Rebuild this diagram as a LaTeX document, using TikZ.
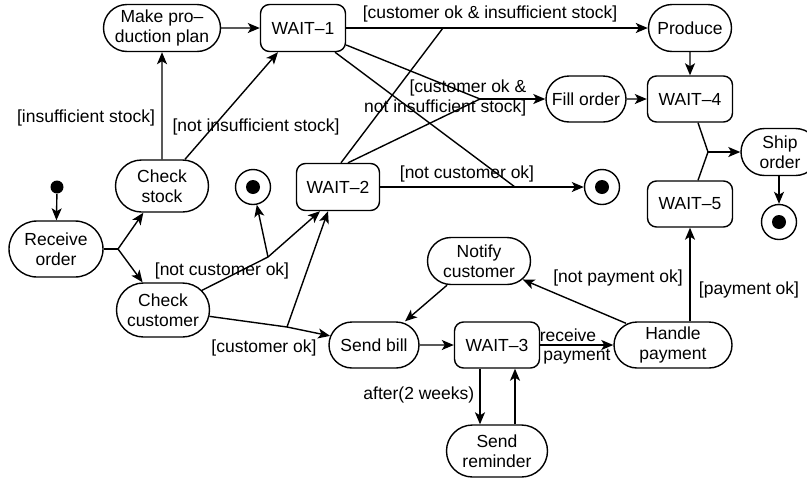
\documentclass[tikz,border=0pt]{standalone}
\usepackage{fontspec}
\setmainfont{Liberation Sans}
\usetikzlibrary{arrows.meta,shapes.misc}

\begin{document}
\begin{tikzpicture}[x=1pt,y=-1pt,line width=1.4pt,
   font=\fontsize{17.5pt}{20pt}\selectfont,
   act/.style={draw,rounded rectangle,align=center,inner sep=1pt,minimum height=47pt},
   waitbox/.style={draw,rectangle,rounded corners=9pt,minimum width=85pt,minimum height=47pt},
   endst/.style={draw,circle,minimum size=35pt,inner sep=0pt,
      path picture={\fill (path picture bounding box.center) circle (7pt);}},
   startst/.style={fill,circle,minimum size=13pt,inner sep=0pt},
   lbl/.style={inner sep=1pt,text height=12.5pt,text depth=3.5pt},
   flow/.style={-{Stealth[length=12pt,width=10pt,inset=3pt]}}]
   \useasboundingbox (0,0) rectangle (807,480);
   \fill [white] (0,0) rectangle (807,480);
   % states
   \node [startst] (start) at (57,187) {};
   \node [act,minimum width=96pt,minimum height=56pt] (recv) at (56,249) {Receive\\order};
   \node [act,minimum width=95pt,minimum height=52pt] (chkstock) at (162,186) {Check\\stock};
   \node [act,minimum width=95pt,minimum height=54pt] (chkcust) at (163,310) {Check\\customer};
   \node [act,minimum width=119pt] (plan) at (162,28) {Make pro--\\duction plan};
   \node [waitbox] (wait1) at (303,28) {WAIT--1};
   \node [waitbox,minimum width=83pt] (wait2) at (338,187) {WAIT--2};
   \node [endst] (end1) at (253,187) {};
   \node [act,minimum width=85pt] (produce) at (690,28) {Produce};
   \node [act,minimum width=82pt,minimum height=46pt] (fill) at (586,99) {Fill order};
   \node [waitbox,minimum height=46pt] (wait4) at (690,99) {WAIT--4};
   \node [endst] (end2) at (602,187) {};
   \node [act,minimum width=80pt] (ship) at (780,152) {Ship\\order};
   \node [waitbox,minimum height=46pt] (wait5) at (690,204) {WAIT--5};
   \node [endst] (end3) at (779,222) {};
   \node [act,minimum width=105pt] (notify) at (479,261) {Notify\\customer};
   \node [act,minimum width=92pt,minimum height=46pt] (bill) at (374,345) {Send bill};
   \node [waitbox,minimum height=46pt] (wait3) at (497,345) {WAIT--3};
   \node [act,minimum width=120pt,minimum height=46pt] (pay) at (673,345) {Handle\\payment};
   \node [act,minimum width=103pt,minimum height=52pt] (remind) at (497,451) {Send\\reminder};
   % forks and joins
   \coordinate (jr) at (118,249);
   \coordinate (j1) at (443,28);
   \coordinate (j2) at (480,99);
   \coordinate (j3) at (515,187);
   \coordinate (j4) at (268,257);
   \coordinate (j5) at (287,327);
   \coordinate (j6) at (708,152);
   % transitions
   \draw [flow] (start) -- (recv);
   \draw (recv.east) -- (jr);
   \draw [flow] (jr) -- (chkstock);
   \draw [flow] (jr) -- (chkcust);
   \draw [flow] (chkstock) -- (plan);
   \draw [flow] ([xshift=23pt]chkstock.north) -- ([xshift=-25pt]wait1.south);
   \draw [flow] (plan) -- (wait1);
   \draw [flow] (wait1) -- (produce);
   \draw ([xshift=3pt]wait2.north) -- (j1);
   \draw ([yshift=-17pt]wait1.east) -- (j2);
   \draw ([xshift=10pt]wait2.north) -- (j2);
   \draw [flow] (j2) -- (fill);
   \draw ([xshift=32pt]wait1.south) -- (j3);
   \draw [flow] (wait2) -- (end2);
   \draw (chkcust) -- (j4);
   \draw [flow] (j4) -- (end1);
   \draw [flow] (j4) -- ([xshift=-18pt]wait2.south);
   \draw (chkcust) -- (j5);
   \draw [flow] (j5) -- (bill);
   \draw [flow] (j5) -- ([xshift=-10pt]wait2.south);
   \draw [flow] ([xshift=-32pt]notify.south) -- ([xshift=31pt]bill.north);
   \draw [flow] (bill) -- (wait3);
   \draw [flow] (wait3) -- (pay);
   \draw [flow] ([xshift=-17pt]wait3.south) -- ([xshift=-17pt]remind.north);
   \draw [flow] ([xshift=18pt]remind.north) -- ([xshift=18pt]wait3.south);
   \draw [flow] ([xshift=-47pt,yshift=-2pt]pay.north) -- (notify);
   \draw [flow] (wait5.south |- pay.north) -- (wait5.south);
   \draw [flow] (produce) -- (wait4);
   \draw [flow] (fill) -- (wait4);
   \draw ([xshift=8pt]wait4.south) -- (j6);
   \draw ([xshift=8pt]wait5.north) -- (j6);
   \draw [flow] (j6) -- (ship);
   \draw [flow] (ship.south -| end3) -- (end3);
   % guards
   \node [lbl] (lblinsuff) at (86,118) {[insufficient stock]};
   \node [lbl] (lblnotinsuff) at (256,127) {[not insufficient stock]};
   \node [lbl] (lblokinsuff) at (490,14) {[customer ok \& insufficient stock]};
   \node [align=right,anchor=east,inner sep=1pt] (lbloknotinsuff) at (528,98) {[customer ok \&\\not insufficient stock]};
   \node [lbl] (lblnotcust1) at (467,174) {[not customer ok]};
   \node [lbl] (lblnotcust2) at (222,271) {[not customer ok]};
   \node [lbl] (lblcustok) at (264,348) {[customer ok]};
   \node [lbl] (lblreceive) at (568,337) {receive};
   \node [lbl] (lblpayment) at (577,356) {payment};
   \node [lbl,anchor=east] (lblafter) at (476,395) {after(2 weeks)};
   \node [lbl] (lblnotpay) at (618,278) {[not payment ok]};
   \node [lbl] (lblpay) at (749,290) {[payment ok]};
\end{tikzpicture}
\end{document}
